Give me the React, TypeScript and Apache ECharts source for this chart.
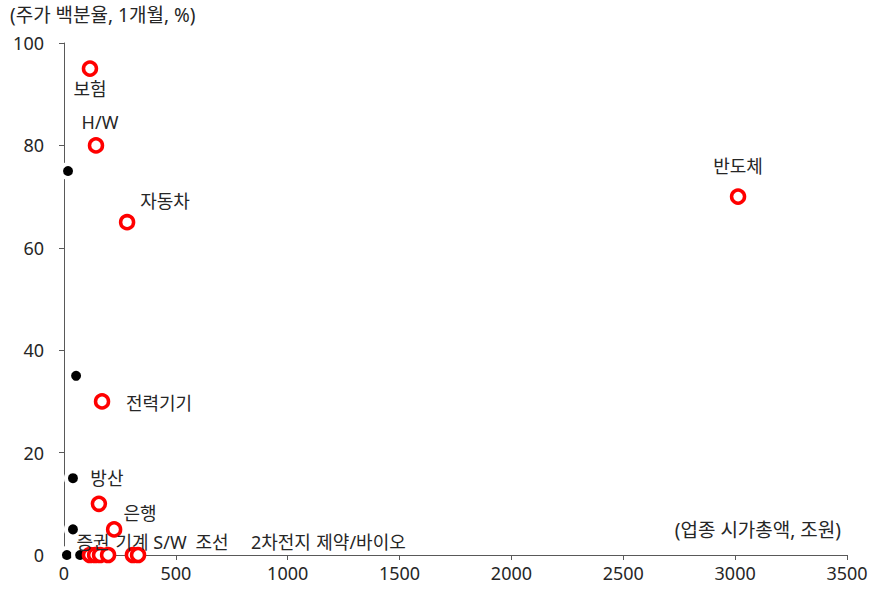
import React, { useEffect, useRef } from "react";
import * as echarts from "echarts";

// Red (highlighted) sectors: name, market cap (조원), price percentile (1M, %)
const redNames = ["보험", "H/W", "자동차", "반도체", "전력기기", "방산", "은행", "증권", "기계", "S/W", "조선", "2차전지", "제약/바이오"];
const redX = [116, 143, 282, 3013, 170, 156, 224, 116, 139, 161, 197, 308, 331];
const redY = [95, 80, 65, 70, 30, 10, 5, 0, 0, 0, 0, 0, 0];

// Black (other) sectors
const blackX = [18, 54, 40, 40, 13, 72];
const blackY = [75, 35, 15, 5, 0, 0];

const xTicks = [0, 500, 1000, 1500, 2000, 2500, 3000, 3500];
const yTicks = [0, 20, 40, 60, 80, 100];

const yTitle = "(주가 백분율, 1개월, %)";
const xTitle = "(업종 시가총액, 조원)";

// label offsets (pixels from point centre) - styling only
const labelOffsets: number[][] = [
  [0, 20], [4, -23], [38, -21], [0, -31], [57, 2], [8, -26], [26, -16],
  [3, -13], [37, -13], [70, -13], [104, -13], [148, -13], [223, -13],
];

const FONT = "'Noto Sans', 'Noto Sans CJK KR', sans-serif";

export default function App() {
  const ref = useRef<HTMLDivElement>(null);
  useEffect(() => {
    if (!ref.current) return;
    const chart = echarts.init(ref.current, undefined, { renderer: "svg" });
    const redData = redNames.map((n, i) => ({
      name: n,
      value: [redX[i], redY[i]],
      label: {
        show: true,
        formatter: n,
        position: "inside",
        offset: labelOffsets[i],
        color: "#262626",
        fontSize: 18,
        fontFamily: FONT,
      },
    }));
    chart.setOption({
      animation: false,
      backgroundColor: "#fff",
      textStyle: { fontFamily: FONT },
      grid: { left: 64, right: 26, top: 43, bottom: 37, containLabel: false },
      xAxis: {
        type: "value",
        min: xTicks[0],
        max: xTicks[xTicks.length - 1],
        interval: 500,
        splitLine: { show: false },
        axisLine: { show: true, lineStyle: { color: "#595959", width: 1 } },
        axisTick: { show: true, length: 5, lineStyle: { color: "#595959" } },
        axisLabel: {
          color: "#262626", fontSize: 18, fontFamily: FONT, margin: 9,
          formatter: (v: number) => String(v),
        },
      },
      yAxis: {
        type: "value",
        min: yTicks[0],
        max: yTicks[yTicks.length - 1],
        interval: 20,
        splitLine: { show: false },
        axisLine: { show: true, lineStyle: { color: "#595959", width: 1 } },
        axisTick: { show: true, length: 5, lineStyle: { color: "#595959" } },
        axisLabel: {
          color: "#262626", fontSize: 18, fontFamily: FONT, margin: 20,
          formatter: (v: number) => String(v),
        },
      },
      graphic: [
        {
          type: "text",
          left: 10,
          top: 5,
          style: { text: yTitle, fill: "#262626", font: `19px ${FONT}` },
        },
        {
          type: "text",
          right: 32,
          top: 520,
          style: { text: xTitle, fill: "#262626", font: `19px ${FONT}` },
        },
      ],
      series: [
        {
          type: "scatter",
          name: "기타",
          data: blackX.map((x, i) => [x, blackY[i]]),
          symbol: "circle",
          symbolSize: 14,
          itemStyle: { color: "#000", borderColor: "#fff", borderWidth: 4, opacity: 1 },
          z: 2,
        },
        {
          type: "scatter",
          name: "주요",
          data: redData,
          symbol: "circle",
          symbolSize: 13,
          itemStyle: { color: "#fff", borderColor: "#ff0000", borderWidth: 3.5, opacity: 1 },
          z: 3,
        },
      ],
    });
    return () => chart.dispose();
  }, []);
  return (
    <div
      ref={ref}
      style={{ position: "fixed", left: 0, top: 0, width: 873, height: 592 }}
    />
  );
}
